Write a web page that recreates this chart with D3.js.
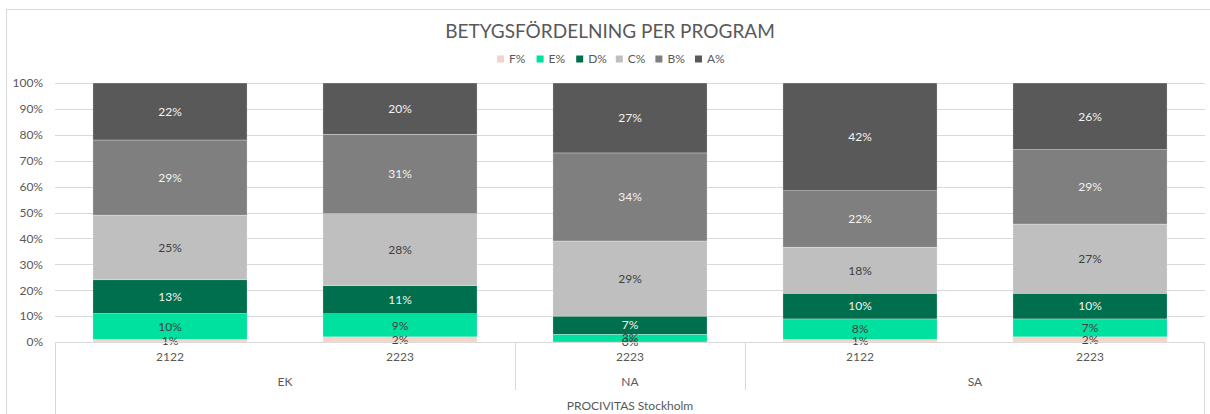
<!DOCTYPE html>
<html>
<head>
<meta charset="utf-8">
<script src="https://cdn.jsdelivr.net/npm/d3@7/dist/d3.min.js"></script>
<style>
  html, body { margin: 0; padding: 0; background: #fff; }
  svg { display: block; font-family: "Lato", "Noto Sans", sans-serif; }
</style>
</head>
<body>
<svg id="chart" width="1210" height="414"></svg>
<script>
// ---- data ----
const programs = ["EK", "EK", "NA", "SA", "SA"];
const years = ["2122", "2223", "2223", "2122", "2223"];
const school = "PROCIVITAS Stockholm";
const seriesNames = ["F%", "E%", "D%", "C%", "B%", "A%"];
const F = [1, 2, 0, 1, 2];
const E = [10, 9, 3, 8, 7];
const D = [13, 11, 7, 10, 10];
const C = [25, 28, 29, 18, 27];
const B = [29, 31, 34, 22, 29];
const A = [22, 20, 27, 42, 26];
const yTicks = [0, 0.1, 0.2, 0.3, 0.4, 0.5, 0.6, 0.7, 0.8, 0.9, 1.0];
const title = "BETYGSFÖRDELNING PER PROGRAM";

(function () {
const colors = ["#f6d3c8", "#00e09e", "#006f4e", "#bfbfbf", "#7f7f7f", "#595959"];
const labelColors = ["#404040", "#404040", "#f2f2f2", "#404040", "#f2f2f2", "#f2f2f2"];

const seriesValues = [F, E, D, C, B, A];
const rows = programs.map((p, i) => {
  const r = { idx: i, program: p, year: years[i] };
  seriesNames.forEach((s, k) => r[s] = seriesValues[k][i]);
  return r;
});

const svg = d3.select("#chart");
const pLeft = 55, pRight = 1205, pTop = 83, pBottom = 342;

// outer border
svg.append("rect").attr("x", 6.5).attr("y", 9.5).attr("width", 1220).attr("height", 420)
  .attr("fill", "none").attr("stroke", "#d9d9d9").attr("stroke-width", 1);

const x = d3.scaleBand().domain(rows.map(r => r.idx)).range([pLeft, pRight])
  .paddingInner(0.33).paddingOuter(0.165);
const y = d3.scaleLinear().domain([0, 1]).range([pBottom, pTop]);

// gridlines
svg.append("g").selectAll("line").data(yTicks).join("line")
  .attr("x1", pLeft).attr("x2", pRight)
  .attr("y1", d => Math.round(y(d)) + 0.5).attr("y2", d => Math.round(y(d)) + 0.5)
  .attr("stroke", "#d9d9d9").attr("stroke-width", 1);

// y axis labels
const yAxis = d3.axisLeft(y).tickValues(yTicks).tickFormat(d3.format(".0%")).tickSize(0).tickPadding(0);
const yg = svg.append("g").attr("transform", `translate(${pLeft - 12},0)`).call(yAxis);
yg.select(".domain").remove();
yg.selectAll("text").attr("fill", "#595959").style("font-size", "12px")
  .style("font-family", "Lato, 'Noto Sans', sans-serif");

// stacked (100%)
const stack = d3.stack().keys(seriesNames).offset(d3.stackOffsetExpand);
const stacked = stack(rows);

const gBars = svg.append("g");
stacked.forEach((layer, k) => {
  gBars.append("g").attr("fill", colors[k]).selectAll("rect").data(layer).join("rect")
    .attr("x", d => x(d.data.idx))
    .attr("width", x.bandwidth())
    .attr("y", d => y(d[1]))
    .attr("height", d => Math.max(0, y(d[0]) - y(d[1])))
    .attr("stroke", "#ffffff").attr("stroke-width", 0.4).attr("stroke-opacity", 0.7);
});

// labels
const gLab = svg.append("g").style("font-size", "12px").attr("text-anchor", "middle");
stacked.forEach((layer, k) => {
  gLab.append("g").selectAll("text").data(layer).join("text")
    .attr("x", d => x(d.data.idx) + x.bandwidth() / 2)
    .attr("y", d => y((d[0] + d[1]) / 2))
    .attr("dy", "0.36em")
    .attr("fill", labelColors[k])
    .text(d => d.data[seriesNames[k]] + "%");
});

// category axis box
const axisG = svg.append("g").attr("stroke", "#d9d9d9").attr("stroke-width", 1);
axisG.append("line").attr("x1", pLeft).attr("x2", pRight).attr("y1", pBottom + 0.5).attr("y2", pBottom + 0.5);
axisG.append("line").attr("x1", pLeft + 0.5).attr("x2", pLeft + 0.5).attr("y1", pBottom).attr("y2", 414);
axisG.append("line").attr("x1", pRight - 0.5).attr("x2", pRight - 0.5).attr("y1", pBottom).attr("y2", 414);

// program groups
const groups = [];
rows.forEach(r => {
  const g = groups.find(g => g.program === r.program);
  if (g) g.idx.push(r.idx); else groups.push({ program: r.program, idx: [r.idx] });
});
const step = x.step();
const halfGap = x.paddingInner() * step / 2;
groups.forEach((g, i) => {
  if (i > 0) {
    const sx = Math.round(x(g.idx[0]) - halfGap) + 0.5;
    axisG.append("line").attr("x1", sx).attr("x2", sx).attr("y1", pBottom).attr("y2", 390);
  }
});

const txt = svg.append("g").attr("fill", "#595959").attr("text-anchor", "middle").style("font-size", "12px");
txt.selectAll("text.yr").data(rows).join("text").attr("class", "yr")
  .attr("x", r => x(r.idx) + x.bandwidth() / 2).attr("y", 361).text(r => r.year);
groups.forEach((g, i) => {
  const x0 = i === 0 ? pLeft : x(g.idx[0]) - halfGap;
  const x1 = i === groups.length - 1 ? pRight : x(g.idx[g.idx.length - 1]) + x.bandwidth() + halfGap;
  txt.append("text").attr("x", (x0 + x1) / 2).attr("y", 386).text(g.program);
});
txt.append("text").attr("x", (pLeft + pRight) / 2).attr("y", 410).text(school);

// title
svg.append("text").attr("x", 610).attr("y", 38).attr("text-anchor", "middle")
  .attr("fill", "#595959").style("font-size", "19px").text(title);

// legend
const legend = svg.append("g").style("font-size", "12px");
const lx0 = 497, lstep = 39.6;
seriesNames.forEach((s, k) => {
  const g = legend.append("g").attr("transform", `translate(${lx0 + k * lstep},59)`);
  g.append("rect").attr("x", 0).attr("y", -3.5).attr("width", 7).attr("height", 7).attr("fill", colors[k]);
  g.append("text").attr("x", 12).attr("y", 0).attr("dy", "0.36em").attr("fill", "#595959").text(s);
});
})();
</script>
</body>
</html>
